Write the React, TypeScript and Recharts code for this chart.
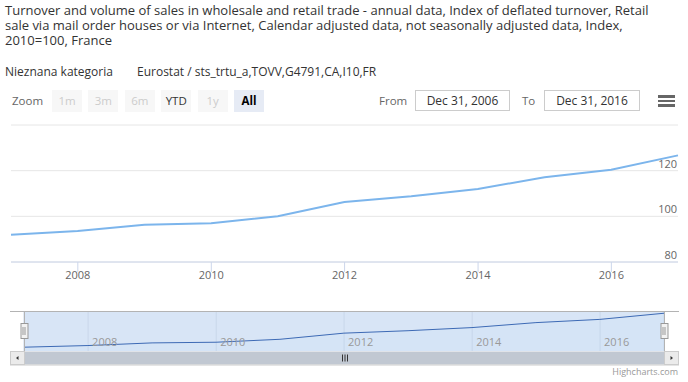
import React from "react";
import { LineChart, Line, AreaChart, Area, XAxis, YAxis, CartesianGrid } from "recharts";

// annual values, dated Dec 31 of each year
const years = [2006, 2007, 2008, 2009, 2010, 2011, 2012, 2013, 2014, 2015, 2016];
const turnoverIndex = [91.9, 93.6, 96.3, 97.0, 100.0, 106.3, 108.8, 112.0, 117.1, 120.4, 126.7];
const yTicks = [80, 100, 120, 140];
const tickYears = [2008, 2010, 2012, 2014, 2016];
const zoomButtons = ["1m", "3m", "6m", "YTD", "1y", "All"];
const disabledButtons = ["1m", "3m", "6m", "1y"];

const data = years.map((y, i) => ({ t: Date.UTC(y, 11, 31), v: turnoverIndex[i] }));
const xDomain = [data[0].t, data[data.length - 1].t];
const xTicks = tickYears.map((y) => Date.UTC(y, 0, 1));
const yearOf = (t: number) => new Date(t).getUTCFullYear();

const FONT = "'Open Sans', sans-serif";

function MainXTick(props: any) {
  const { x, y, payload } = props;
  return (
    <text x={x} y={y + 7} textAnchor="middle" fontSize={11} fill="#666" fontFamily={FONT}>
      {yearOf(payload.value)}
    </text>
  );
}

function MainYTick(props: any) {
  const { x, y, payload } = props;
  if (payload.value === 140) return <g />;
  return (
    <text x={x - 1} y={y - 3} textAnchor="end" fontSize={11} fill="#666" fontFamily={FONT}>
      {payload.value}
    </text>
  );
}

function NavXTick(props: any) {
  const { x, y, payload } = props;
  return (
    <text x={x + 4} y={y - 5} textAnchor="start" fontSize={11} fill="#999" fontFamily={FONT}>
      {yearOf(payload.value)}
    </text>
  );
}

function Handle({ x }: { x: number }) {
  return (
    <g>
      <rect x={x - 3.5} y={323.5} width={7} height={15} fill="#f2f2f2" stroke="#999" />
      <line x1={x - 1.5} x2={x - 1.5} y1={327} y2={335} stroke="#999" />
      <line x1={x + 0.5} x2={x + 0.5} y1={327} y2={335} stroke="#999" />
    </g>
  );
}

export default function App() {
  return (
    <div
      style={{
        position: "relative",
        width: 688,
        height: 382,
        fontFamily: FONT,
        background: "#fff",
        overflow: "hidden",
      }}
    >
      <style>{"body{margin:0}"}</style>

      <div
        style={{
          position: "absolute",
          left: 5,
          top: 3,
          fontSize: 13,
          lineHeight: "15px",
          color: "#333",
          whiteSpace: "nowrap",
        }}
      >
        Turnover and volume of sales in wholesale and retail trade - annual data, Index of deflated turnover, Retail
        <br />
        sale via mail order houses or via Internet, Calendar adjusted data, not seasonally adjusted data, Index,
        <br />
        2010=100, France
      </div>

      <div style={{ position: "absolute", left: 5, top: 63.5, fontSize: 12, lineHeight: "15px", color: "#333" }}>
        Nieznana kategoria
      </div>
      <div style={{ position: "absolute", left: 137, top: 63.5, fontSize: 12, lineHeight: "15px", color: "#333" }}>
        Eurostat / sts_trtu_a,TOVV,G4791,CA,I10,FR
      </div>

      {/* range selector */}
      <div style={{ position: "absolute", left: 12, top: 93, fontSize: 11.5, lineHeight: "15px", color: "#666" }}>
        Zoom
      </div>
      {zoomButtons.map((b, i) => {
        const selected = b === "All";
        const disabled = disabledButtons.includes(b);
        return (
          <div
            key={b}
            style={{
              position: "absolute",
              left: 52 + i * 36.4,
              top: 90,
              width: 30,
              height: 22,
              lineHeight: "22px",
              textAlign: "center",
              fontSize: 11.5,
              background: selected ? "#e6ebf5" : "#f7f7f7",
              color: selected ? "#000" : disabled ? "#ccc" : "#333",
              fontWeight: selected ? 700 : 400,
            }}
          >
            {b}
          </div>
        );
      })}

      <div style={{ position: "absolute", left: 379, top: 93, fontSize: 11.5, lineHeight: "15px", color: "#666" }}>
        From
      </div>
      <div
        style={{
          position: "absolute",
          left: 415,
          top: 90,
          width: 93,
          height: 19,
          border: "1px solid #ccc",
          fontSize: 12,
          lineHeight: "19px",
          textAlign: "center",
          color: "#333",
        }}
      >
        Dec 31, 2006
      </div>
      <div style={{ position: "absolute", left: 522, top: 93, fontSize: 11.5, lineHeight: "15px", color: "#666" }}>
        To
      </div>
      <div
        style={{
          position: "absolute",
          left: 544,
          top: 90,
          width: 94,
          height: 19,
          border: "1px solid #ccc",
          fontSize: 12,
          lineHeight: "19px",
          textAlign: "center",
          color: "#333",
        }}
      >
        Dec 31, 2016
      </div>
      {[95, 99.5, 104].map((t) => (
        <div key={t} style={{ position: "absolute", left: 658, top: t, width: 17, height: 2.6, background: "#666" }} />
      ))}

      {/* main chart */}
      <div style={{ position: "absolute", left: 0, top: 0 }}>
        <LineChart width={688} height={290} data={data} margin={{ top: 125, right: 9, bottom: 0, left: 11 }}>
          <CartesianGrid horizontal vertical={false} stroke="#e6e6e6" />
          <XAxis
            dataKey="t"
            type="number"
            domain={xDomain}
            ticks={xTicks}
            height={28}
            stroke="#ccd6eb"
            tickSize={10}
            tickMargin={0}
            tick={<MainXTick />}
          />
          <YAxis
            orientation="right"
            width={1}
            domain={[80, 140]}
            ticks={yTicks}
            axisLine={false}
            tickLine={false}
            tickSize={0}
            tickMargin={0}
            tick={<MainYTick />}
          />
          <Line
            type="linear"
            dataKey="v"
            stroke="#7cb5ec"
            strokeWidth={2}
            dot={false}
            isAnimationActive={false}
          />
        </LineChart>
      </div>

      {/* navigator */}
      <div style={{ position: "absolute", left: 0, top: 311 }}>
        <AreaChart width={688} height={41} data={data} margin={{ top: 0, right: 24, bottom: 0, left: 24 }}>
          <CartesianGrid horizontal={false} vertical stroke="#c9d7ea" fill="#d8e5f6" fillOpacity={1} />
          <XAxis
            dataKey="t"
            type="number"
            domain={xDomain}
            ticks={xTicks}
            height={1}
            axisLine={false}
            tickLine={false}
            tickSize={0}
            tickMargin={0}
            tick={<NavXTick />}
          />
          <YAxis hide width={0} domain={[88, 129]} />
          <Area
            type="linear"
            dataKey="v"
            stroke="#3d6ab5"
            strokeWidth={1}
            fill="#95ceff"
            fillOpacity={0.05}
            isAnimationActive={false}
          />
        </AreaChart>
      </div>

      {/* navigator outline, handles, scrollbar */}
      <svg
        width={688}
        height={382}
        style={{ position: "absolute", left: 0, top: 0, pointerEvents: "none" }}
      >
        <path d="M10 311.5 L679 311.5 M24.5 311.5 L24.5 351 M664.5 311.5 L664.5 351" stroke="#b3b3b3" fill="none" />
        <rect x={24.5} y={351.5} width={640} height={13} fill="#c1c8d2" />
        <path d="M342.5 354.5 L342.5 361.5 M345 354.5 L345 361.5 M347.5 354.5 L347.5 361.5" stroke="#333" strokeWidth={1} />
        <rect x={10.5} y={351.5} width={14} height={13} fill="#ebebeb" stroke="#ccc" />
        <rect x={664.5} y={351.5} width={14} height={13} fill="#ebebeb" stroke="#ccc" />
        <path d="M16 358 L18.5 356 L18.5 360 Z" fill="#333" />
        <path d="M673 358 L670.5 356 L670.5 360 Z" fill="#333" />
        <line x1={10} x2={679} y1={365} y2={365} stroke="#ccc" />
        <Handle x={24.5} />
        <Handle x={664.5} />
      </svg>

      <div
        style={{
          position: "absolute",
          right: 10,
          top: 366,
          fontSize: 9,
          lineHeight: "11px",
          color: "#999",
        }}
      >
        Highcharts.com
      </div>
    </div>
  );
}
